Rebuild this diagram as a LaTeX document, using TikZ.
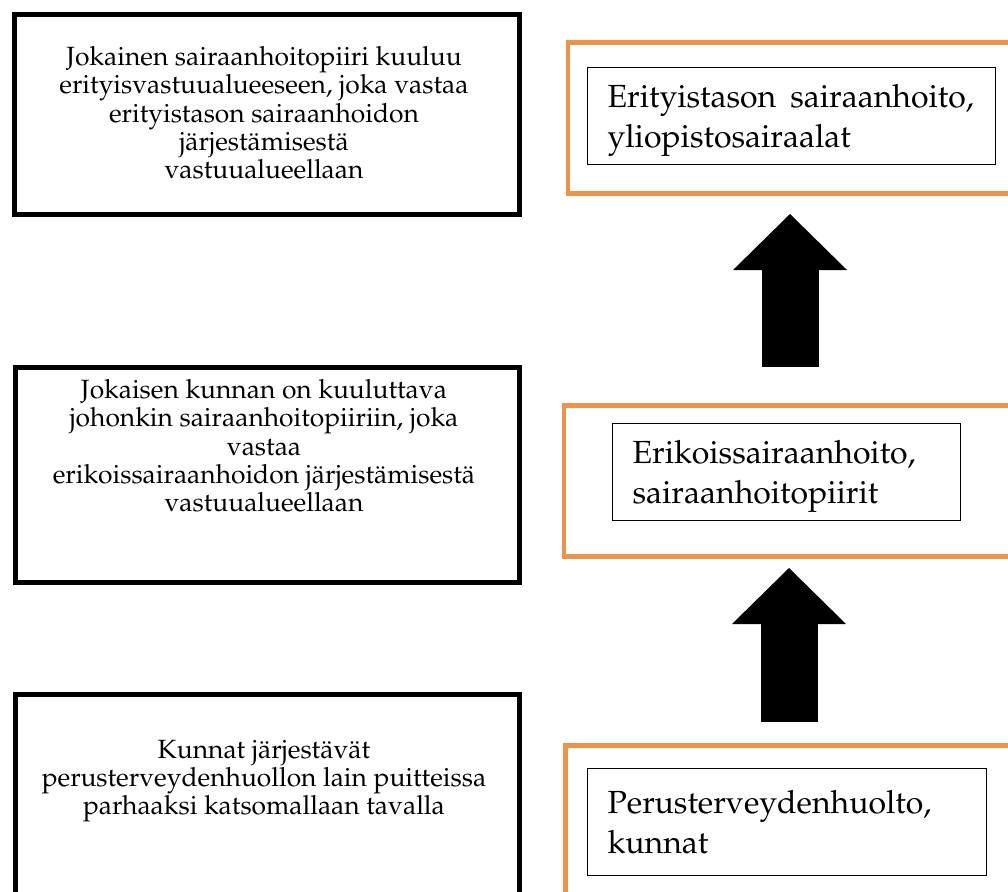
\documentclass[tikz,border=0pt]{standalone}
\usepackage[T1]{fontenc}
\usepackage{mathpazo}
\usepackage{xcolor}
\usetikzlibrary{arrows.meta}
\definecolor{levelorange}{RGB}{237,148,74}
\tikzstyle{infobox} = [draw, line width=5pt, inner sep=0pt, anchor=north west]
\tikzstyle{infotext} = [align=center, inner sep=0pt, anchor=north, font=\fontsize{26.4}{28.4}\selectfont]
\tikzstyle{levelframe} = [draw=levelorange, line width=4.5pt, inner sep=0pt, anchor=north west]
\tikzstyle{levelbox} = [draw, line width=1.2pt, inner xsep=20pt, inner ysep=0pt, anchor=north west, align=left, font=\fontsize{32}{40}\selectfont]
\tikzstyle{uparrow} = [line width=57pt, -{Triangle[width=114pt, length=56pt, line width=0pt]}]

\begin{document}
\begin{tikzpicture}[x=1pt, y=-1pt]
\useasboundingbox (0,0) rectangle (1008,891);
\clip (0,0) rectangle (1008,891);

% left column
\node [infobox, minimum width=505pt, minimum height=199.5pt] at (11.5,12.5) (vastuubox) {};
\node [infotext] at (264,46) (vastuutext) {Jokainen sairaanhoitopiiri kuuluu\\ erityisvastuualueeseen, joka vastaa\\ erityistason sairaanhoidon\\ järjestämisestä\\ vastuualueellaan};

\node [infobox, minimum width=504pt, minimum height=215.5pt] at (12.5,364.5) (piiribox) {};
\node [infotext] at (264,379) (piiritext) {Jokaisen kunnan on kuuluttava\\ johonkin sairaanhoitopiiriin, joka\\ vastaa\\ erikoissairaanhoidon järjestämisestä\\ vastuualueellaan};

\node [infobox, minimum width=504pt, minimum height=250pt] at (12.5,692) (kuntabox) {};
\node [infotext] at (264,739.5) (kuntatext) {Kunnat järjestävät\\ perusterveydenhuollon lain puitteissa\\ parhaaksi katsomallaan tavalla};

% right column
\node [levelframe, minimum width=500pt, minimum height=150.5pt] at (565.5,40.5) (yliopistoframe) {};
\node [levelbox, minimum width=408pt, minimum height=97pt, text width=368pt, text depth=40pt] at (587,67) (yliopisto) {\mbox{Erityistason\hspace{14pt}sairaanhoito,}\\ yliopistosairaalat};

\node [levelframe, minimum width=500pt, minimum height=151pt] at (561.5,403) (erikoisframe) {};
\node [levelbox, minimum width=348pt, minimum height=97pt, text width=308pt, text depth=40pt] at (612,423) (erikois) {Erikoissairaanhoito,\\ sairaanhoitopiirit};

\node [levelframe, minimum width=500pt, minimum height=300pt] at (563,743) (perusframe) {};
\node [levelbox, minimum width=399pt, minimum height=107pt, text width=359pt] at (587,767.5) (perus) {Perusterveydenhuolto,\\ kunnat};

% arrows
\coordinate (perustail) at (789,722);
\coordinate (erikoistip) at (789,568);
\coordinate (erikoistail) at (790,367);
\coordinate (yliopistotip) at (790,214);
\draw [uparrow] (perustail) -- (erikoistip);
\draw [uparrow] (erikoistail) -- (yliopistotip);
\end{tikzpicture}
\end{document}
